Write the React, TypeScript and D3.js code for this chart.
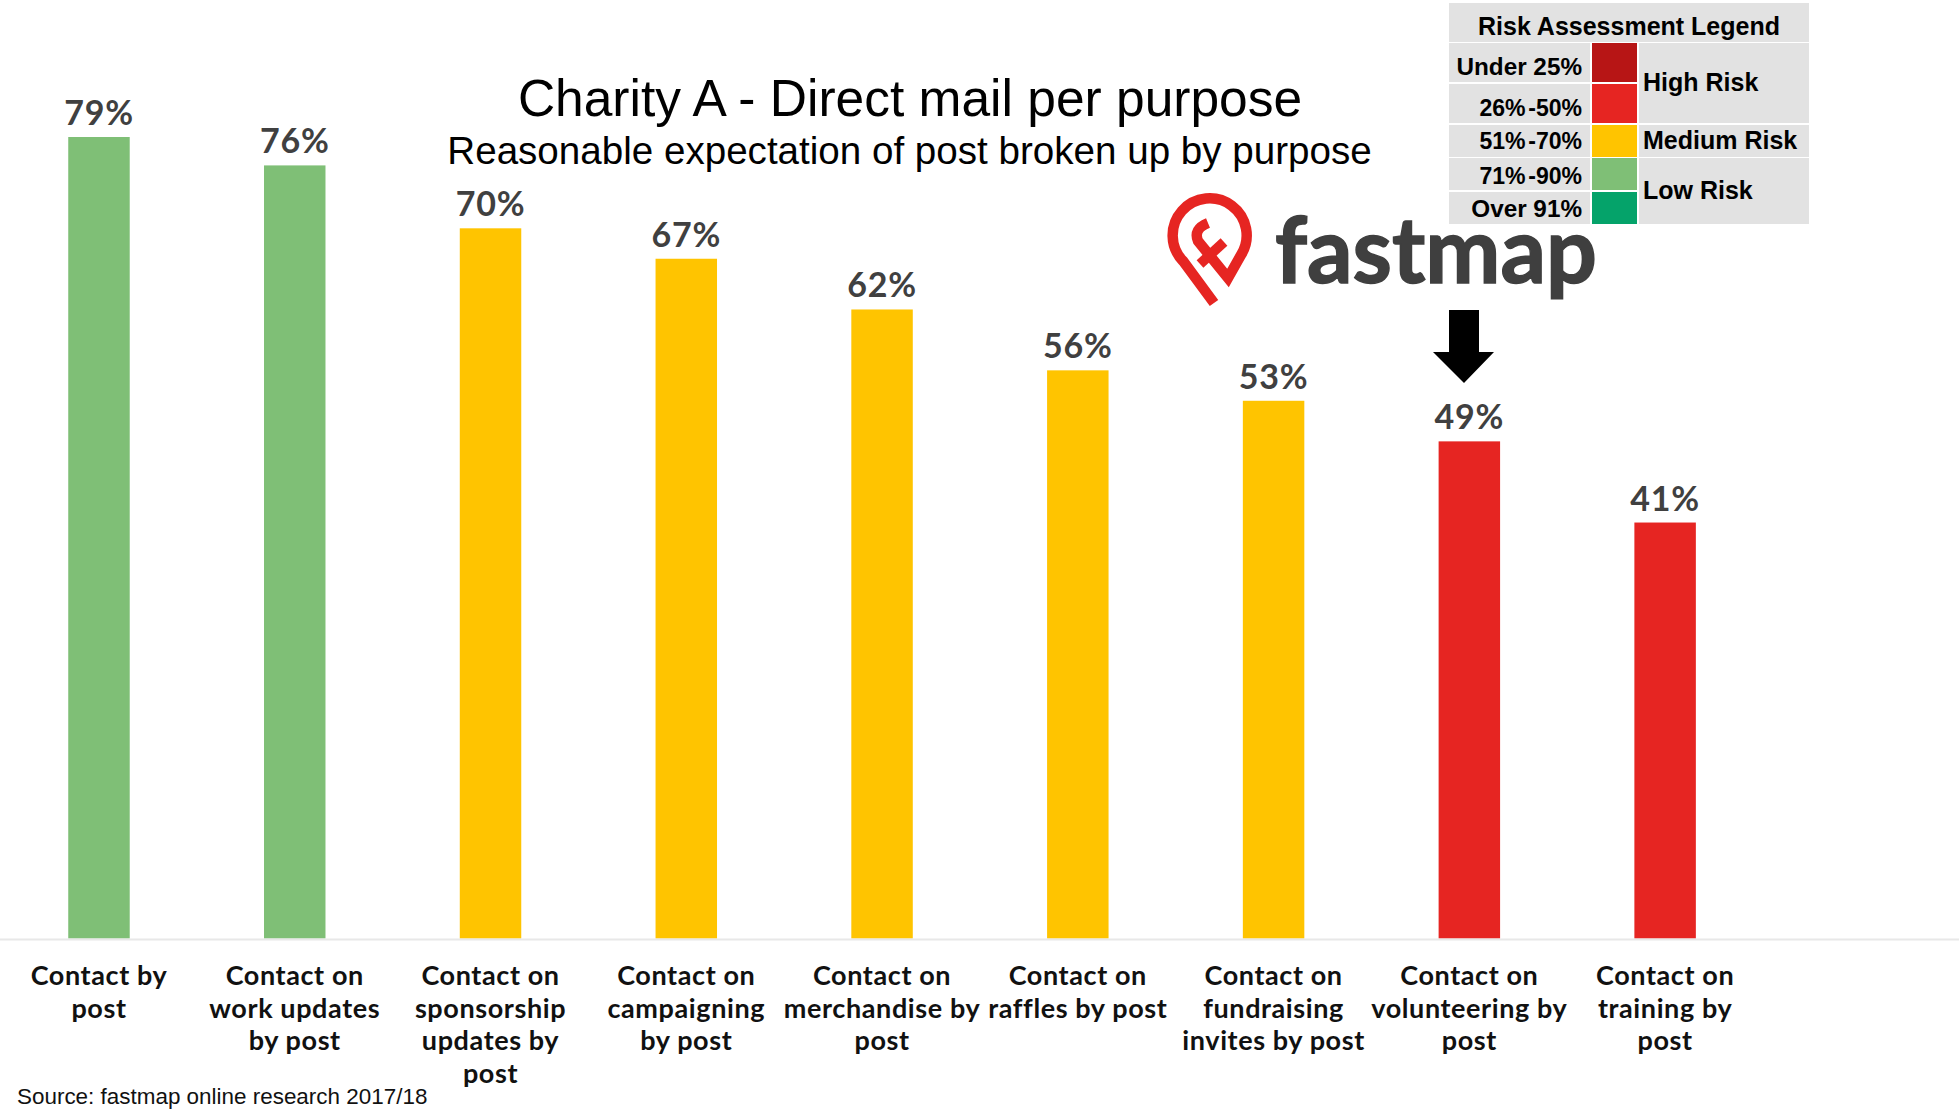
import * as d3 from 'd3'
import { useEffect, useRef } from 'react'

const categories = [
    ['Contact by', 'post'],
    ['Contact on', 'work updates', 'by post'],
    ['Contact on', 'sponsorship', 'updates by', 'post'],
    ['Contact on', 'campaigning', 'by post'],
    ['Contact on', 'merchandise by', 'post'],
    ['Contact on', 'raffles by post'],
    ['Contact on', 'fundraising', 'invites by post'],
    ['Contact on', 'volunteering by', 'post'],
    ['Contact on', 'training by', 'post'],
];
const values = [79, 76.2, 70, 67, 62, 56, 53, 49, 41];

const riskRanges = ['Under 25%', '26% -50%', '51% -70%', '71% -90%', 'Over 91%'];
const riskColors = ['#b71515', '#e62522', '#ffc400', '#7fbf76', '#05a36a'];
const riskLimits = [26, 51, 71, 91];
const riskNames = ['High Risk', 'Medium Risk', 'Low Risk'];

const WIDTH = 1959;
const HEIGHT = 1110;
const LABEL_FONT = 'Lato, sans-serif';
const ARIAL = '"Liberation Sans", Arial, sans-serif';

const drawLegend = (svg: d3.Selection<SVGSVGElement, unknown, null, undefined>) => {
    const g = svg.append('g');
    const rowTops = [43, 84, 125, 158, 192];
    const rowBottoms = [82, 123, 157, 190, 224];
    const baselines = [75, 116, 149, 184, 217];

    g.append('rect').attr('x', 1449).attr('y', 3).attr('width', 360).attr('height', 39).attr('fill', '#e2e2e2');
    g.append('text').attr('x', 1629).attr('y', 35).attr('text-anchor', 'middle')
        .attr('font-family', ARIAL).attr('font-weight', 700).attr('font-size', 25)
        .text('Risk Assessment Legend');

    riskRanges.forEach((r, i) => {
        g.append('rect').attr('x', 1449).attr('y', rowTops[i]).attr('width', 141)
            .attr('height', rowBottoms[i] - rowTops[i]).attr('fill', '#e2e2e2');
        g.append('rect').attr('x', 1592).attr('y', rowTops[i]).attr('width', 45)
            .attr('height', rowBottoms[i] - rowTops[i]).attr('fill', riskColors[i]);
        const t = g.append('text').attr('x', 1582).attr('y', baselines[i]).attr('text-anchor', 'end')
            .attr('font-family', ARIAL).attr('font-weight', 700).attr('font-size', 24.3)
            .text(r);
        // the range rows are set tighter than the others in the original
        if (r.includes('-')) t.attr('textLength', 102.5).attr('lengthAdjust', 'spacingAndGlyphs').attr('word-spacing', -4);
    });

    const nameTops = [43, 125, 158];
    const nameBottoms = [123, 157, 224];
    const nameBaselines = [91, 149, 199];
    riskNames.forEach((n, i) => {
        g.append('rect').attr('x', 1639).attr('y', nameTops[i]).attr('width', 170)
            .attr('height', nameBottoms[i] - nameTops[i]).attr('fill', '#e2e2e2');
        g.append('text').attr('x', 1643).attr('y', nameBaselines[i])
            .attr('font-family', ARIAL).attr('font-weight', 700).attr('font-size', 25)
            .text(n);
    });
};

const drawLogo = (svg: d3.Selection<SVGSVGElement, unknown, null, undefined>) => {
    const g = svg.append('g').attr('fill', 'none').attr('stroke', '#e62522');
    g.append('path').attr('stroke-width', 10.5).attr('stroke-miterlimit', 6)
        .attr('d', 'M1208,223 Q1193,229 1198,241 L1228,278 L1241,255 A37,37 0 1 0 1183,261 L1214,303');
    g.append('path').attr('stroke-width', 10)
        .attr('d', 'M1200,264 L1224,242');
    svg.append('text').attr('x', 1275).attr('y', 283)
        .attr('font-family', LABEL_FONT).attr('font-weight', 700).attr('font-size', 92)
        .attr('fill', '#3f3f3f').attr('stroke', '#3f3f3f').attr('stroke-width', 1.5)
        .attr('textLength', 322).attr('lengthAdjust', 'spacingAndGlyphs')
        .text('fastmap');
};

const createChart = (node: SVGSVGElement) => {
    const baseline = 938.5;

    const x = d3.scaleBand<number>()
        .domain(d3.range(categories.length))
        .range([1.1, 1763])
        .paddingInner(0.686)
        .paddingOuter(0.343);

    const y = d3.scaleLinear()
        .domain([0, 79])
        .range([baseline, 137]);

    const color = d3.scaleThreshold<number, string>()
        .domain(riskLimits)
        .range(riskColors);

    const svg = d3.select(node);
    svg.selectAll('*').remove();

    svg.selectAll('rect.bar')
        .data(values)
        .join('rect')
        .attr('class', 'bar')
        .attr('x', (_, i) => x(i) as number)
        .attr('y', d => y(d))
        .attr('width', x.bandwidth())
        .attr('height', d => baseline - y(d))
        .attr('fill', d => color(d));

    svg.append('line')
        .attr('x1', 0).attr('x2', WIDTH)
        .attr('y1', baseline + 1).attr('y2', baseline + 1)
        .attr('stroke', '#e8e8e8').attr('stroke-width', 2);

    svg.selectAll('text.value')
        .data(values)
        .join('text')
        .attr('class', 'value')
        .attr('x', (_, i) => (x(i) as number) + x.bandwidth() / 2)
        .attr('y', d => y(d) - 12)
        .attr('text-anchor', 'middle')
        .attr('font-family', LABEL_FONT).attr('font-weight', 700).attr('font-size', 34)
        .attr('letter-spacing', 0.8)
        .attr('fill', '#404040')
        .text(d => `${Math.round(d)}%`);

    categories.forEach((lines, i) => {
        const t = svg.append('text')
            .attr('text-anchor', 'middle')
            .attr('font-family', LABEL_FONT).attr('font-weight', 700).attr('font-size', 27)
            .attr('letter-spacing', 0.6)
            .attr('fill', '#111');
        lines.forEach((line, j) => {
            t.append('tspan')
                .attr('x', (x(i) as number) + x.bandwidth() / 2)
                .attr('y', 985 + j * 32.5)
                .text(line);
        });
    });

    svg.append('text').attr('x', 910).attr('y', 116).attr('text-anchor', 'middle')
        .attr('font-family', ARIAL).attr('font-size', 51.5).attr('fill', '#000')
        .text('Charity A - Direct mail per purpose');
    svg.append('text').attr('x', 909.5).attr('y', 164).attr('text-anchor', 'middle')
        .attr('font-family', ARIAL).attr('font-size', 38.6).attr('fill', '#000')
        .text('Reasonable expectation of post broken up by purpose');
    svg.append('text').attr('x', 17).attr('y', 1104)
        .attr('font-family', ARIAL).attr('font-size', 22.45).attr('fill', '#111')
        .text('Source: fastmap online research 2017/18');

    drawLegend(svg);
    drawLogo(svg);

    // arrow pointing at the volunteering bar
    svg.append('path').attr('fill', '#000')
        .attr('d', 'M1449,310 H1479 V352 H1494 L1464,383 L1433,352 H1449 Z');
};

const App = () => {
    const ref = useRef<SVGSVGElement>(null);
    useEffect(() => {
        if (ref.current) createChart(ref.current);
    }, []);
    return (
        <svg ref={ref} width={WIDTH} height={HEIGHT}
            style={{ position: 'absolute', left: 0, top: 0, background: '#fff', display: 'block' }} />
    );
};

export default App;
